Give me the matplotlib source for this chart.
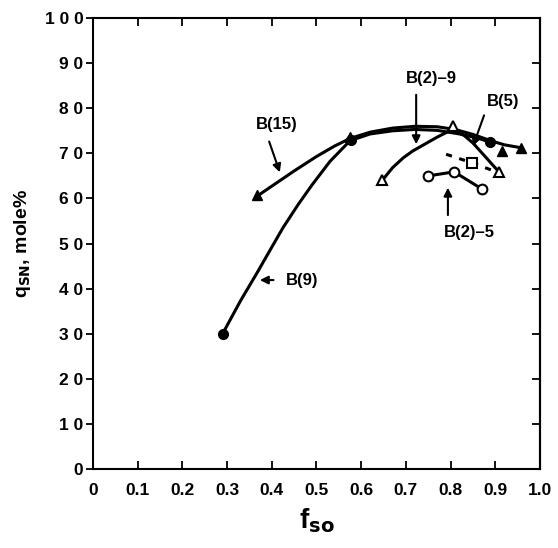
import matplotlib
matplotlib.use("Agg")
import matplotlib.pyplot as plt

# B(9): filled circles
b9_x = [0.29, 0.33, 0.367, 0.40, 0.425, 0.46, 0.49, 0.53, 0.575, 0.62, 0.67,
        0.72, 0.77, 0.82, 0.86, 0.888]
b9_y = [30.0, 37.3, 43.5, 49.2, 53.5, 58.8, 63.0, 68.2, 72.8, 74.3, 75.0,
        75.3, 75.1, 74.3, 73.4, 72.5]
b9_mx = [0.29, 0.578, 0.888]
b9_my = [30.0, 73.0, 72.5]

# B(15): filled triangles
b15_x = [0.367, 0.41, 0.45, 0.50, 0.54, 0.575, 0.62, 0.67, 0.72, 0.77, 0.81,
         0.85, 0.89, 0.92, 0.96]
b15_y = [60.5, 63.4, 66.1, 69.3, 71.6, 73.3, 74.7, 75.6, 76.0, 75.9, 75.3,
         74.2, 72.8, 71.9, 71.2]
b15_mx = [0.367, 0.575, 0.915, 0.958]
b15_my = [60.8, 73.6, 70.6, 71.2]

# B(2)-9: open triangles
b29_x = [0.647, 0.67, 0.694, 0.715, 0.738, 0.77, 0.79, 0.805, 0.83, 0.85,
         0.88, 0.908]
b29_y = [64.0, 66.8, 69.0, 70.5, 71.8, 73.6, 74.6, 75.2, 74.0, 72.3,
         69.0, 65.9]
b29_mx = [0.647, 0.805, 0.908]
b29_my = [64.0, 76.0, 65.9]

# B(5): open squares, dashed
b5_x = [0.79, 0.848, 0.905]
b5_y = [69.8, 67.9, 65.8]

# B(2)-5: open circles
b25_x = [0.75, 0.808, 0.87]
b25_y = [65.0, 65.9, 62.1]

xticks = [0, 0.1, 0.2, 0.3, 0.4, 0.5, 0.6, 0.7, 0.8, 0.9, 1.0]
xtick_labels = ["0", "0.1", "0.2", "0.3", "0.4", "0.5", "0.6", "0.7", "0.8", "0.9", "1.0"]
yticks = [0, 10, 20, 30, 40, 50, 60, 70, 80, 90, 100]
ytick_labels = ["0", "1 0", "2 0", "3 0", "4 0", "5 0", "6 0", "7 0", "8 0", "9 0", "1 0 0"]

plt.rcParams['font.family'] = ['Liberation Sans', 'DejaVu Sans']
plt.rcParams['font.weight'] = 'bold'

fig = plt.figure(figsize=(5.58, 5.48), dpi=100)
ax = fig.add_axes([0.1667, 0.1442, 0.801, 0.8228])

lw = 2.2
ax.plot(b9_x, b9_y, color='k', lw=lw)
ax.plot(b9_mx, b9_my, 'o', color='k', ms=7, ls='none')
ax.plot(b15_x, b15_y, color='k', lw=lw)
ax.plot(b15_mx, b15_my, '^', color='k', ms=7, ls='none')
ax.plot(b29_x, b29_y, color='k', lw=lw)
ax.plot(b29_mx, b29_my, '^', color='k', mfc='white', mew=1.5, ms=7, ls='none')
ax.plot(b5_x, b5_y, color='k', lw=lw, ls=(0, (2, 2.5)))
ax.plot(b5_x[1:2], b5_y[1:2], 's', color='k', mfc='white', mew=1.5, ms=7)
ax.plot(b25_x, b25_y, color='k', lw=lw, marker='o', mfc='white', mew=1.5, ms=7)

arrow = dict(arrowstyle='-|>', color='k', lw=1.5, mutation_scale=12)
ax.annotate('', xy=(0.42, 65.2), xytext=(0.392, 73.2), arrowprops=arrow)
ax.text(0.41, 76.3, 'B(15)', ha='center', va='center', fontsize=12, fontweight='bold')
ax.annotate('', xy=(0.367, 41.9), xytext=(0.41, 41.9), arrowprops=arrow)
ax.text(0.432, 41.9, 'B(9)', ha='left', va='center', fontsize=12, fontweight='bold')
ax.annotate('', xy=(0.723, 71.4), xytext=(0.723, 83.6), arrowprops=arrow)
ax.text(0.756, 86.5, 'B(2)\u20139', ha='center', va='center', fontsize=12, fontweight='bold')
ax.annotate('', xy=(0.848, 71.0), xytext=(0.877, 79.0), arrowprops=arrow)
ax.text(0.917, 81.4, 'B(5)', ha='center', va='center', fontsize=12, fontweight='bold')
ax.annotate('', xy=(0.794, 63.0), xytext=(0.794, 55.7), arrowprops=arrow)
ax.text(0.843, 52.5, 'B(2)\u20135', ha='center', va='center', fontsize=12, fontweight='bold')

ax.set_xlim(0, 1.0)
ax.set_ylim(0, 100)
ax.set_xticks(xticks)
ax.set_xticklabels(xtick_labels, fontsize=12.5, fontweight='bold')
ax.set_yticks(yticks)
ax.set_yticklabels(ytick_labels, fontsize=12.5, fontweight='bold')
ax.tick_params(axis='x', direction='in', top=True, length=6, width=1.3, pad=10)
ax.tick_params(axis='y', direction='out', length=5, width=1.3, pad=2)
sec = ax.secondary_yaxis('right')
sec.set_yticks(yticks)
sec.tick_params(direction='in', length=6, width=1.3, labelright=False)
sec.spines['right'].set_linewidth(1.5)
for s in ax.spines.values():
    s.set_linewidth(1.5)

ax.set_xlabel(r'f$_{\mathbf{so}}$', fontsize=20, fontweight='bold', labelpad=6)
ax.set_ylabel(r'q$_{\mathbf{SN}}$, mole%', fontsize=14, fontweight='bold', labelpad=8)

fig.savefig('out.png', dpi=100)
